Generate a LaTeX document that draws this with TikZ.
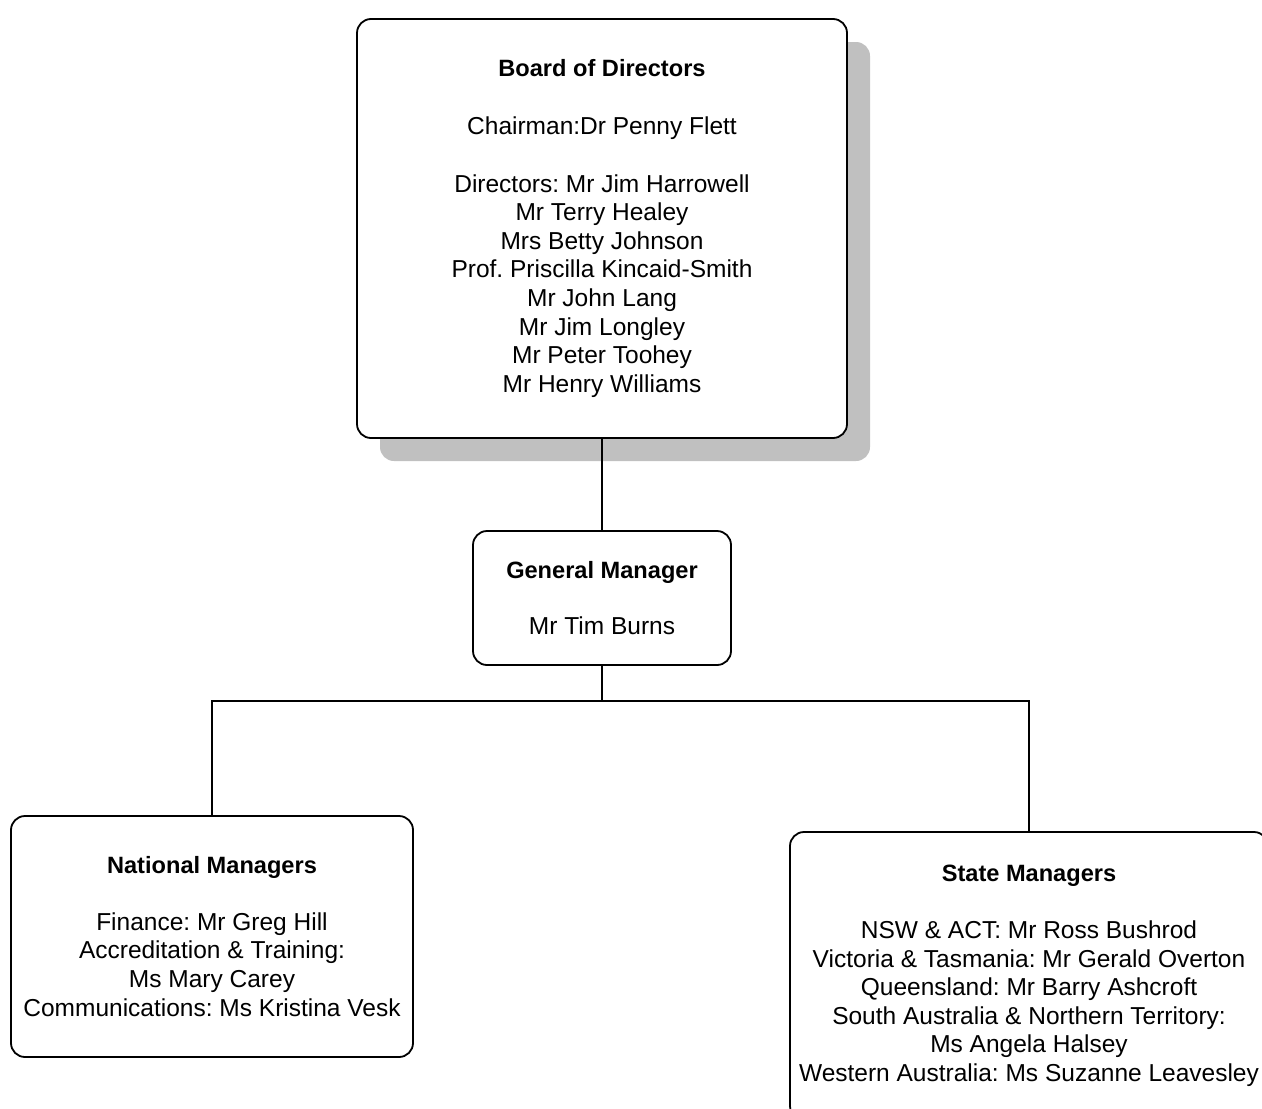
\documentclass[tikz,border=0pt]{standalone}
\usepackage{fontspec}
\setmainfont{Liberation Sans}
\usetikzlibrary{shadows}
\definecolor{shadowgray}{RGB}{192,192,192}
\newcommand\ttl[1]{{\fontsize{11.8}{14.3}\selectfont\bfseries #1}}
\frenchspacing
\begin{document}
\begin{tikzpicture}[x=0.5pt,y=-0.5pt,
  box/.style={draw, line width=0.9pt, rounded corners=7pt, fill=white, inner sep=0pt,
    align=center, font=\fontsize{12.25}{14.3}\selectfont},
  conn/.style={line width=0.9pt}]
\useasboundingbox (0,0) rectangle (1262,1108);
\clip (0,0) rectangle (1262,1108);
\node[box, minimum width=245pt, minimum height=209.5pt,
  drop shadow={shadow xshift=11.5pt, shadow yshift=-11.5pt, fill=shadowgray, opacity=1}]
  (board) at (602,228.5) {\ttl{Board of Directors}\\[14.5pt]
  Chairman:Dr Penny Flett\\[14.5pt]
  Directors: Mr Jim Harrowell\\ Mr Terry Healey\\ Mrs Betty Johnson\\
  Prof. Priscilla Kincaid-Smith\\ Mr John Lang\\ Mr Jim Longley\\
  Mr Peter Toohey\\ Mr Henry Williams};
\node[box, minimum width=129pt, minimum height=67pt] (gm) at (602,598)
  {\ttl{General Manager}\\[14pt] Mr Tim Burns};
\node[box, minimum width=201pt, minimum height=120.5pt] (nm) at (212,936.5)
  {\ttl{National Managers}\\[14pt] Finance: Mr Greg Hill\\ Accreditation \& Training:\\
  Ms Mary Carey\\ Communications: Ms Kristina Vesk};
\node[box, minimum width=239pt, minimum height=144pt] (sm) at (1029,976)
  {\ttl{State Managers}\\[14pt] NSW \& ACT: Mr Ross Bushrod\\
  Victoria \& Tasmania: Mr Gerald Overton\\ Queensland: Mr Barry Ashcroft\\
  South Australia \& Northern Territory:\\ Ms Angela Halsey\\
  Western Australia: Ms Suzanne Leavesley};
\coordinate (bar) at (602,701);
\draw[conn] (board.south) -- (gm.north);
\draw[conn] (gm.south) -- (bar);
\draw[conn] (nm.north) -- (nm.north |- bar) -- (sm.north |- bar) -- (sm.north);
\end{tikzpicture}
\end{document}
